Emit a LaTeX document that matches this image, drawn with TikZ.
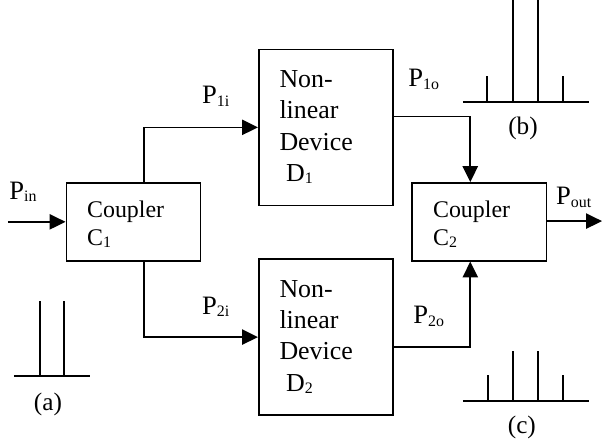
\documentclass[tikz,border=0pt]{standalone}
\usepackage{fontspec}
\setmainfont{Liberation Serif}
\usetikzlibrary{arrows.meta, positioning}
\newcommand{\psub}[1]{\raisebox{-2pt}{\fontsize{12}{12}\selectfont #1}}
\tikzset{
  block/.style={rectangle,draw=black,line width=1.2pt,inner sep=0pt,align=left},
  coupler/.style={block,minimum width=3.55cm,minimum height=2.06cm,text width=2.45cm,font=\fontsize{18}{21}\selectfont,execute at begin node=\rule{0pt}{16pt}},
  device/.style={block,minimum width=3.55cm,minimum height=4.13cm,text width=2.45cm,font=\fontsize{19.5}{23.5}\selectfont},
  flow/.style={line width=1.2pt,-{Triangle[length=12pt,width=11.5pt]}},
  power/.style={anchor=base west,inner sep=0pt,font=\fontsize{20}{22}\selectfont},
  caption/.style={inner sep=0pt,font=\fontsize{19}{21}\selectfont},
  spectrum/.style={line width=1.2pt},
}
\begin{document}
\begin{tikzpicture}
	\useasboundingbox (0,0) rectangle (15.93,-11.77);
	\node[coupler] (C1) at (3.53,-5.87) {Coupler\\C\psub{1}};
	\node[device,right=1.5cm of C1,yshift=2.5cm] (D1) {Non-\\linear\\Device\\\hspace*{5pt}D\psub{1}};
	\node[device,right=1.5cm of C1,yshift=-3.05cm] (D2) {Non-\\linear\\Device\\\hspace*{5pt}D\psub{2}};
	\node[coupler,right=0.47cm of D1,yshift=-2.5cm] (C2) {Coupler\\C\psub{2}};
	\coordinate (IN) at (0.21,-5.87);
	\coordinate (OUT) at (15.93,-5.85);
	\draw[flow] (IN) -- (C1);
	\draw[flow] ([xshift=.28cm]C1.north) |- (D1.west);
	\draw[flow] ([xshift=.28cm]C1.south) |- (D2.west);
	\draw[flow] ([yshift=.29cm]D1.east) -| ([xshift=-.24cm]C2.north);
	\draw[flow] ([yshift=-.26cm]D2.east) -| ([xshift=-.24cm]C2.south);
	\draw[flow] (C2.east |- OUT) -- (OUT);
	\node[power] (Pin) at (.24,-5.27) {P\psub{in}};
	\node[power] (P1i) at (5.34,-2.75) {P\psub{1i}};
	\node[power] (P2i) at (5.34,-8.31) {P\psub{2i}};
	\node[power] (P1o) at (10.8,-2.30) {P\psub{1o}};
	\node[power] (P2o) at (10.93,-8.57) {P\psub{2o}};
	\node[power] (Pout) at (14.71,-5.42) {P\psub{out}};
	\draw[spectrum] (.37,-9.95) -- (2.38,-9.95);
	\foreach \x in {1.06,1.69} \draw[spectrum] (\x,-9.95) -- (\x,-7.96);
	\node[caption] (a) at (1.27,-10.69) {(a)};
	\draw[spectrum] (12.25,-2.70) -- (15.58,-2.70);
	\foreach \x/\top in {12.88/-2.01,13.57/0,14.23/0,14.90/-2.01} \draw[spectrum] (\x,-2.70) -- (\x,\top);
	\node[caption] (b) at (13.84,-3.39) {(b)};
	\draw[spectrum] (12.25,-10.61) -- (15.58,-10.61);
	\foreach \x/\top in {12.91/-9.92,13.57/-9.29,14.23/-9.29,14.90/-9.92} \draw[spectrum] (\x,-10.61) -- (\x,\top);
	\node[caption] (c) at (13.81,-11.32) {(c)};
\end{tikzpicture}
\end{document}
